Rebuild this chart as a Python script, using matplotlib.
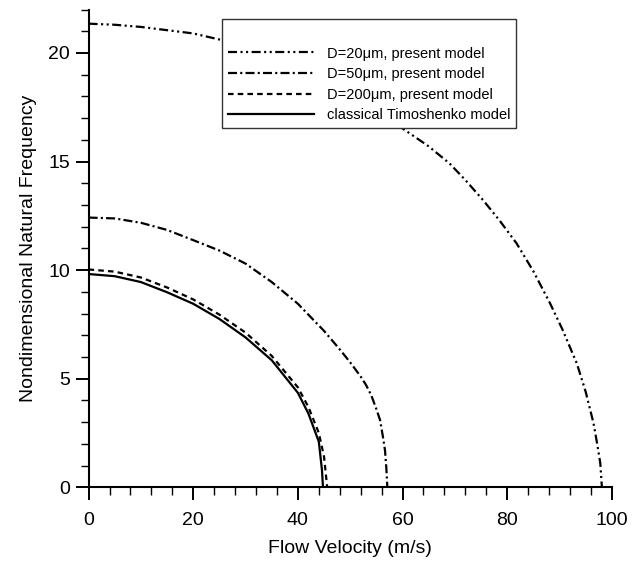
import matplotlib
matplotlib.use("Agg")
import matplotlib.pyplot as plt
from matplotlib.ticker import MultipleLocator

plt.rcParams["font.family"] = ["Liberation Sans", "DejaVu Sans"]
plt.rcParams["lines.scale_dashes"] = False

# 読み取った曲線データ
u_d20 = [0, 5, 10, 15, 20, 25, 30, 35, 40, 45, 50, 55, 61, 65, 69, 72, 75.4, 78.5,
         81.8, 85, 88.2, 90.5, 93.3, 95, 96.5, 97.2, 97.8, 98.1]
f_d20 = [21.35, 21.3, 21.2, 21.05, 20.9, 20.62, 20.3, 19.9, 19.4, 18.8, 18.1, 17.35,
         16.36, 15.7, 14.91, 14.15, 13.22, 12.3, 11.23, 9.95, 8.47, 7.3, 5.71, 4.4,
         2.95, 2.0, 1.1, 0]

u_d50 = [0, 5, 10, 15, 20, 25, 30, 35, 40, 45, 48, 50, 52, 53, 54, 55, 55.7, 56.2,
         56.65, 56.9, 57.1]
f_d50 = [12.42, 12.38, 12.18, 11.85, 11.38, 10.9, 10.3, 9.45, 8.45, 7.2, 6.35, 5.75,
         5.1, 4.72, 4.25, 3.6, 3.1, 2.4, 1.7, 0.9, 0]

u_d200 = [0, 5, 10, 15, 20, 25, 30, 35, 40, 42, 44, 45, 45.6]
f_d200 = [10.03, 9.93, 9.66, 9.2, 8.65, 7.95, 7.12, 6.05, 4.6, 3.7, 2.5, 1.4, 0]

u_cls = [0, 5, 10, 15, 20, 25, 30, 35, 40, 42, 44, 44.6, 44.8]
f_cls = [9.82, 9.72, 9.45, 8.98, 8.45, 7.75, 6.9, 5.85, 4.35, 3.4, 2.1, 0.8, 0]

labels = ["D=20\u03bcm, present model", "D=50\u03bcm, present model",
          "D=200\u03bcm, present model", "classical Timoshenko model"]

fig = plt.figure(figsize=(6.42, 5.62), dpi=100)
ax = fig.add_axes([0.138, 0.133, 0.815, 0.85])

lw = 1.6
ax.plot(u_d20, f_d20, color="black", lw=lw,
        linestyle=(0, (6.5, 2.5, 1.5, 2.5, 1.5, 2.5)), label=labels[0])
ax.plot(u_d50, f_d50, color="black", lw=lw,
        linestyle=(0, (6.5, 2.3, 1.5, 2.3)), label=labels[1])
ax.plot(u_d200, f_d200, color="black", lw=lw,
        linestyle=(0, (4, 3)), label=labels[2])
ax.plot(u_cls, f_cls, color="black", lw=lw, linestyle="-", label=labels[3])

ax.set_xlim(0, 100)
ax.set_ylim(0, 22)
ax.xaxis.set_major_locator(MultipleLocator(20))
ax.xaxis.set_minor_locator(MultipleLocator(4))
ax.yaxis.set_major_locator(MultipleLocator(5))
ax.yaxis.set_minor_locator(MultipleLocator(1))

# 左と下の軸だけ
ax.spines["top"].set_visible(False)
ax.spines["right"].set_visible(False)
ax.spines["left"].set_linewidth(1.5)
ax.spines["bottom"].set_linewidth(1.5)

ax.tick_params(which="major", direction="out", length=9.5, width=1.4,
               labelsize=14)
ax.tick_params(which="minor", direction="out", length=5.5, width=1.0)
ax.tick_params(axis="x", which="major", pad=8)
ax.tick_params(axis="y", which="major", pad=4)

ax.set_xlabel("Flow Velocity (m/s)", fontsize=14, labelpad=8)
ax.set_ylabel("Nondimensional Natural Frequency", fontsize=14, labelpad=8)

leg = ax.legend(loc="upper left", bbox_to_anchor=(0.255, 0.98), borderaxespad=0,
                fontsize=10.5, handlelength=5.9, handletextpad=0.9,
                labelspacing=0.45, fancybox=False, framealpha=1,
                title=" ", title_fontsize=12)
leg.get_frame().set_edgecolor("#333333")
leg.get_frame().set_linewidth(1.0)

fig.savefig("out.png", dpi=100)
